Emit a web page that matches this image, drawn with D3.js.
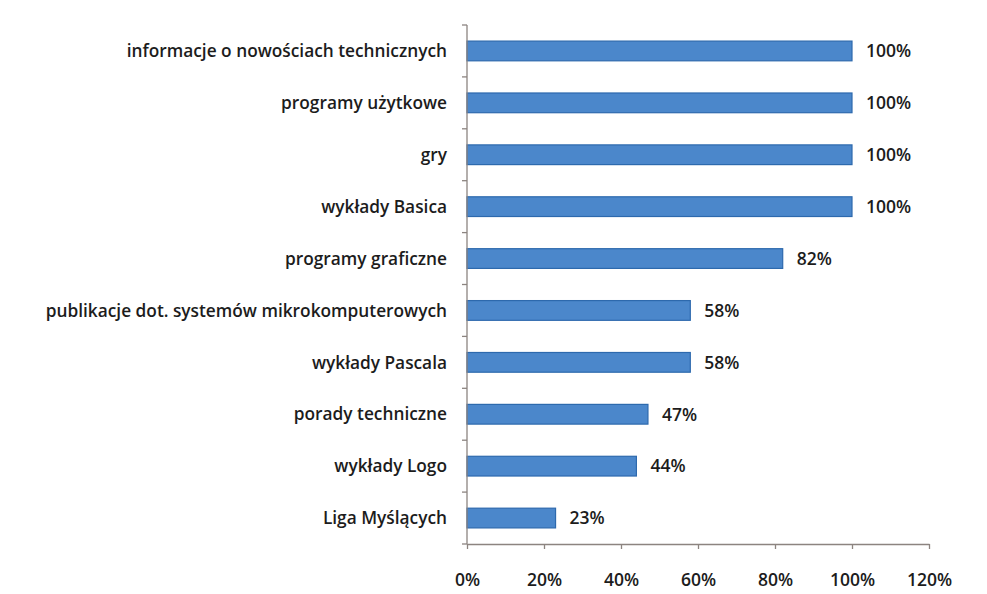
<!DOCTYPE html>
<html>
<head>
<meta charset="utf-8">
<script src="https://cdn.jsdelivr.net/npm/d3@7"></script>
<style>
  html, body { margin: 0; padding: 0; background: #ffffff; }
  svg { display: block; }
</style>
</head>
<body>
<svg id="chart" width="987" height="594"></svg>
<script>
// Categories, top to bottom
const categories = [
  "informacje o nowościach technicznych",
  "programy użytkowe",
  "gry",
  "wykłady Basica",
  "programy graficzne",
  "publikacje dot. systemów mikrokomputerowych",
  "wykłady Pascala",
  "porady techniczne",
  "wykłady Logo",
  "Liga Myślących"
];
// Share of responses, in percent
const values = [100, 100, 100, 100, 82, 58, 58, 47, 44, 23];
// X axis tick values, in percent
const xTicks = [0, 20, 40, 60, 80, 100, 120];

const data = categories.map((c, i) => ({ name: c, value: values[i] }));

const svg = d3.select("#chart");
const plotLeft = 467, plotRight = 929, plotTop = 25, plotBottom = 544;
const font = "'Open Sans', Lato, sans-serif";
const labelSize = 17.3;
const numberSize = 17.5;

const x = d3.scaleLinear().domain([0, 120]).range([plotLeft, plotRight]);
const pIn = 0.62;
const y = d3.scaleBand()
  .domain(categories)
  .range([plotTop, plotBottom])
  .paddingInner(pIn)
  .paddingOuter(pIn / 2);
const step = y.step();

// Bars
svg.append("g").selectAll("rect")
  .data(data)
  .join("rect")
  .attr("x", x(0))
  .attr("y", d => y(d.name))
  .attr("width", d => x(d.value) - x(0))
  .attr("height", y.bandwidth())
  .attr("fill", "#4b87cb")
  .attr("stroke", "#2d69ad")
  .attr("stroke-width", 1.2);

// Value labels
svg.append("g").selectAll("text")
  .data(data)
  .join("text")
  .attr("x", d => x(d.value) + 14)
  .attr("y", d => y(d.name) + y.bandwidth() / 2)
  .attr("dy", "0.36em")
  .attr("font-family", font)
  .attr("font-weight", 600)
  .attr("font-size", numberSize)
  .attr("fill", "#1c1c1c")
  .text(d => d.value + "%");

// Category labels
svg.append("g").selectAll("text")
  .data(data)
  .join("text")
  .attr("x", plotLeft - 20)
  .attr("y", d => y(d.name) + y.bandwidth() / 2)
  .attr("dy", "0.36em")
  .attr("text-anchor", "end")
  .attr("font-family", font)
  .attr("font-weight", 600)
  .attr("font-size", labelSize)
  .attr("fill", "#1c1c1c")
  .text(d => d.name);

const axisColor = "#8c8480";

// Y axis line with ticks at category boundaries
const gy = svg.append("g");
gy.append("line")
  .attr("x1", plotLeft).attr("x2", plotLeft)
  .attr("y1", plotTop).attr("y2", plotBottom)
  .attr("stroke", axisColor).attr("stroke-width", 1.3);
const bounds = categories.map(c => y(c) - (step - y.bandwidth()) / 2).concat([plotBottom]);
gy.selectAll("line.tick")
  .data(bounds)
  .join("line")
  .attr("class", "tick")
  .attr("x1", plotLeft - 5).attr("x2", plotLeft)
  .attr("y1", d => d).attr("y2", d => d)
  .attr("stroke", axisColor).attr("stroke-width", 1.3);

// X axis
const xAxis = d3.axisBottom(x)
  .tickValues(xTicks)
  .tickFormat(d => d + "%")
  .tickSizeInner(5)
  .tickSizeOuter(0)
  .tickPadding(25);
const gx = svg.append("g")
  .attr("transform", `translate(0,${plotBottom})`)
  .call(xAxis);
gx.select(".domain").attr("stroke", axisColor).attr("stroke-width", 1.3);
gx.selectAll(".tick line").attr("stroke", axisColor).attr("stroke-width", 1.3);
gx.selectAll(".tick text")
  .attr("font-family", font)
  .attr("font-weight", 600)
  .attr("font-size", numberSize)
  .attr("fill", "#1c1c1c");
</script>
</body>
</html>
